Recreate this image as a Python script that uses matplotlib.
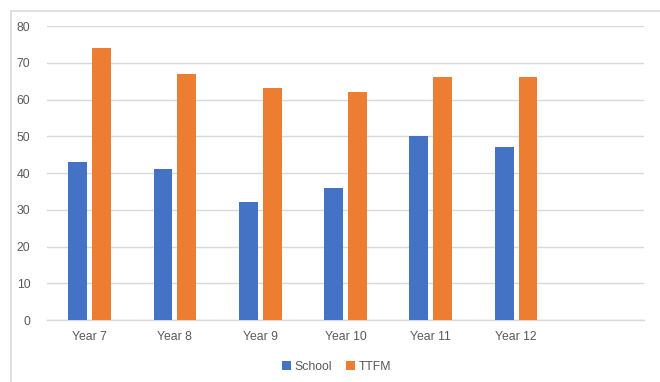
import matplotlib

matplotlib.use("Agg")
import matplotlib.pyplot as plt
import numpy as np
from matplotlib.patches import Rectangle

categories = ["Year 7", "Year 8", "Year 9", "Year 10", "Year 11", "Year 12", ""]
school = [43, 41, 32, 36, 50, 47, np.nan]
ttfm = [74, 67, 63, 62, 66, 66, np.nan]
yticks = [0, 10, 20, 30, 40, 50, 60, 70, 80]

BLUE = "#4472C4"
ORANGE = "#ED7D31"
GRID = "#D9D9D9"
TEXT = "#595959"

plt.rcParams["font.family"] = ["Liberation Sans", "DejaVu Sans"]

fig = plt.figure(figsize=(6.6, 3.82), dpi=100)
ax = fig.add_axes([0.0712, 0.1623, 0.9046, 0.7696])

# chart border
fig.patches.append(Rectangle((0.0174, -0.05), 1.1, 0.9725 + 0.05, transform=fig.transFigure,
                             fill=False, edgecolor=GRID, linewidth=1.2))

x = np.arange(len(categories))
w = 0.22
ax.bar(x - 0.14, school, w, color=BLUE, label="School", zorder=3)
ax.bar(x + 0.14, ttfm, w, color=ORANGE, label="TTFM", zorder=3)

ax.set_xlim(-0.5, len(categories) - 0.5)
ax.set_ylim(0, 80)
ax.set_yticks(yticks)
ax.set_xticks(x)
ax.set_xticklabels(categories)
ax.yaxis.grid(True, color=GRID, linewidth=1)
ax.set_axisbelow(True)
for side in ["top", "right", "left"]:
    ax.spines[side].set_visible(False)
ax.spines["bottom"].set_color(GRID)
ax.spines["bottom"].set_linewidth(1)
ax.tick_params(axis="both", length=0, labelsize=8.8, labelcolor=TEXT)
ax.tick_params(axis="y", pad=12)
ax.tick_params(axis="x", pad=8)

fig.legend(loc="center", bbox_to_anchor=(0.51, 0.04), ncol=2, frameon=False,
           fontsize=8.8, labelcolor=TEXT, handlelength=0.7, handleheight=0.7,
           handletextpad=0.3, columnspacing=1.2)

fig.savefig("out.png", dpi=100)
plt.close(fig)
